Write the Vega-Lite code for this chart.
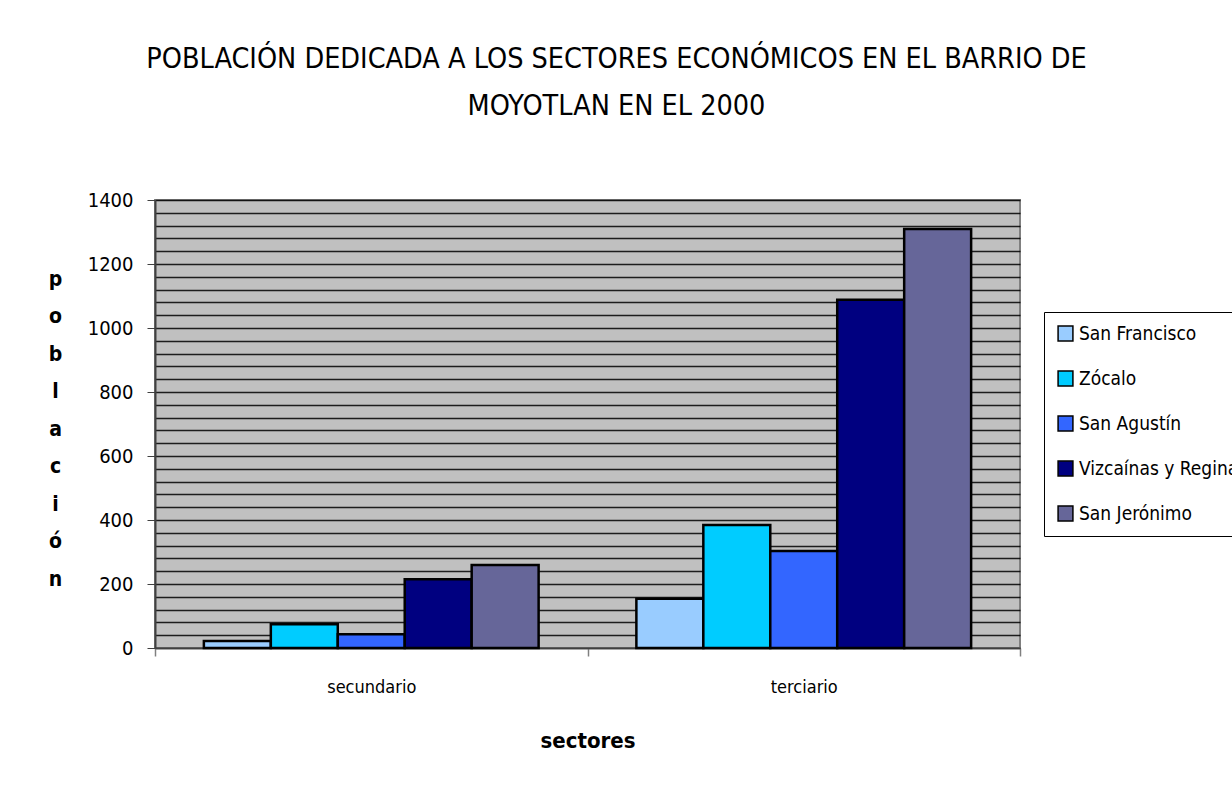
{
  "$schema": "https://vega.github.io/schema/vega-lite/v6.json",
  "width": 865,
  "height": 448,
  "autosize": {"type": "none"},
  "padding": {"left": 155, "top": 200, "right": 212, "bottom": 138},
  "background": "white",
  "title": {
    "text": ["POBLACIÓN DEDICADA A LOS SECTORES ECONÓMICOS EN EL BARRIO DE", "MOYOTLAN EN EL 2000"],
    "fontSize": 28.5,
    "fontWeight": "normal",
    "font": "DejaVu Sans Condensed, Liberation Sans Narrow, sans-serif",
    "color": "black",
    "lineHeight": 47,
    "anchor": "middle",
    "dx": 29,
    "offset": 70
  },
  "config": {
    "view": {"fill": "#c0c0c0", "stroke": "#808080", "strokeWidth": 2},
    "font": "DejaVu Sans Condensed, Liberation Sans Narrow, sans-serif"
  },
  "data": {
    "values": [
      {"sector": "secundario", "barrio": "San Francisco", "poblacion": 22},
      {"sector": "secundario", "barrio": "Zócalo", "poblacion": 74},
      {"sector": "secundario", "barrio": "San Agustín", "poblacion": 43},
      {"sector": "secundario", "barrio": "Vizcaínas y Regina", "poblacion": 215},
      {"sector": "secundario", "barrio": "San Jerónimo", "poblacion": 259},
      {"sector": "terciario", "barrio": "San Francisco", "poblacion": 154},
      {"sector": "terciario", "barrio": "Zócalo", "poblacion": 384},
      {"sector": "terciario", "barrio": "San Agustín", "poblacion": 303},
      {"sector": "terciario", "barrio": "Vizcaínas y Regina", "poblacion": 1088},
      {"sector": "terciario", "barrio": "San Jerónimo", "poblacion": 1309}
    ]
  },
  "mark": {"type": "bar", "stroke": "black", "strokeWidth": 2.5},
  "encoding": {
    "x": {
      "field": "sector",
      "type": "nominal",
      "scale": {"paddingInner": 0, "paddingOuter": 0},
      "axis": {
        "title": "sectores",
        "titleFontSize": 22,
        "titleFontWeight": "bold",
        "titleColor": "black",
        "titlePadding": 34,
        "labelAngle": 0,
        "labelFontSize": 18,
        "labelColor": "black",
        "labelPadding": 22,
        "tickBand": "extent",
        "tickSize": 8,
        "tickColor": "#808080",
        "tickWidth": 1.5,
        "domainColor": "#404040",
        "domainWidth": 1.5,
        "grid": false
      }
    },
    "xOffset": {
      "field": "barrio",
      "type": "nominal",
      "sort": ["San Francisco", "Zócalo", "San Agustín", "Vizcaínas y Regina", "San Jerónimo"],
      "scale": {"paddingInner": 0, "paddingOuter": 0.73}
    },
    "y": {
      "field": "poblacion",
      "type": "quantitative",
      "scale": {"domain": [0, 1400], "nice": false},
      "axis": {
        "title": ["p", "o", "b", "l", "a", "c", "i", "ó", "n"],
        "titleAngle": 0,
        "titleFontSize": 21,
        "titleFontWeight": "bold",
        "titleColor": "black",
        "titleLineHeight": 37.5,
        "titleAlign": "center",
        "titleBaseline": "top",
        "titleX": -100,
        "titleY": 68,
        "values": [0, 40, 80, 120, 160, 200, 240, 280, 320, 360, 400, 440, 480, 520, 560, 600, 640, 680, 720, 760, 800, 840, 880, 920, 960, 1000, 1040, 1080, 1120, 1160, 1200, 1240, 1280, 1320, 1360, 1400],
        "labelExpr": "datum.value % 200 == 0 ? datum.label : ''",
        "format": "d",
        "labelFontSize": 20,
        "labelColor": "black",
        "labelPadding": 14,
        "tickSize": {"condition": {"test": "datum.value % 200 == 0", "value": 8}, "value": 0},
        "tickColor": "#404040",
        "domainColor": "#404040",
        "domainWidth": 2,
        "grid": true,
        "gridColor": "black",
        "gridWidth": 1.5,
        "gridOpacity": 0.85
      }
    },
    "color": {
      "field": "barrio",
      "type": "nominal",
      "sort": ["San Francisco", "Zócalo", "San Agustín", "Vizcaínas y Regina", "San Jerónimo"],
      "scale": {
        "domain": ["San Francisco", "Zócalo", "San Agustín", "Vizcaínas y Regina", "San Jerónimo"],
        "range": ["#99ccff", "#00ccff", "#3366ff", "#000080", "#666699"]
      },
      "legend": {
        "title": null,
        "orient": "none",
        "legendX": 889,
        "legendY": 112,
        "symbolType": "square",
        "symbolSize": 220,
        "symbolStrokeColor": "black",
        "symbolStrokeWidth": 1.5,
        "labelFontSize": 19,
        "labelColor": "black",
        "labelLimit": 300,
        "rowPadding": 24,
        "strokeColor": "black",
        "fillColor": "white",
        "padding": 12
      }
    }
  }
}
